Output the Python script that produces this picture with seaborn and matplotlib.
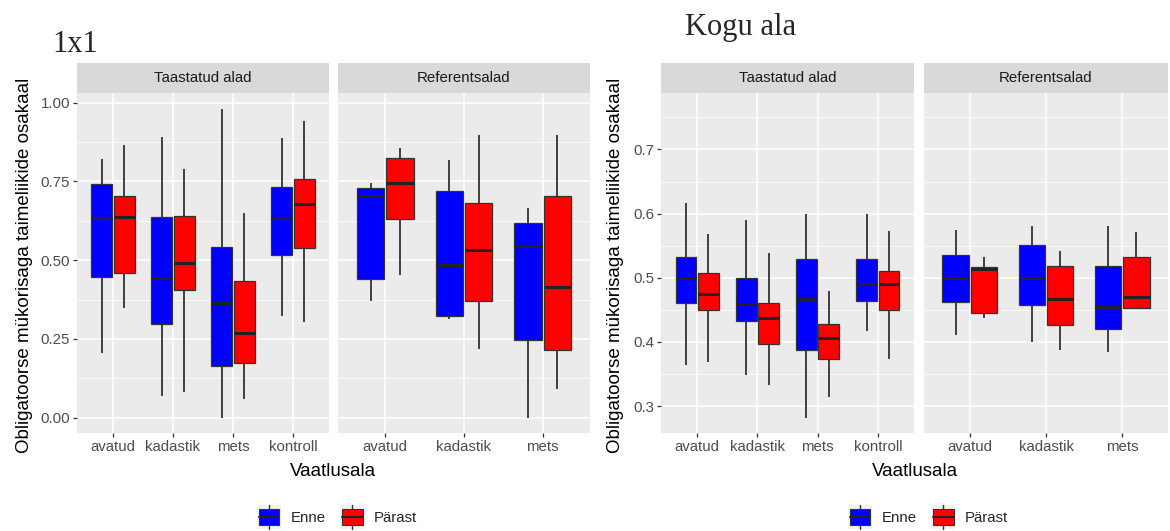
import matplotlib
matplotlib.use("Agg")
import matplotlib.pyplot as plt
from matplotlib.patches import Patch, Rectangle
from matplotlib.lines import Line2D
from matplotlib.legend_handler import HandlerBase
from matplotlib.ticker import FixedLocator
import seaborn as sns
import pandas as pd

# vaatlusalad
alad_taastatud = ["avatud", "kadastik", "mets", "kontroll"]
alad_ref = ["avatud", "kadastik", "mets"]
aeg = ["Enne", "Pärast"]

# iga rida: min, q1, mediaan, q3, max (loetud jooniselt)
# 1x1
x1_taast_enne = [[0.206, 0.447, 0.633, 0.741, 0.822],
                 [0.069, 0.296, 0.442, 0.638, 0.892],
                 [0.000, 0.164, 0.364, 0.543, 0.981],
                 [0.323, 0.516, 0.633, 0.732, 0.889]]
x1_taast_parast = [[0.349, 0.458, 0.638, 0.704, 0.866],
                   [0.081, 0.404, 0.492, 0.640, 0.790],
                   [0.060, 0.172, 0.270, 0.434, 0.651],
                   [0.302, 0.540, 0.677, 0.759, 0.942]]
x1_ref_enne = [[0.370, 0.441, 0.704, 0.728, 0.746],
               [0.314, 0.323, 0.484, 0.720, 0.817],
               [0.000, 0.247, 0.545, 0.617, 0.667]]
x1_ref_parast = [[0.452, 0.630, 0.744, 0.823, 0.857],
                 [0.217, 0.370, 0.532, 0.683, 0.896],
                 [0.090, 0.215, 0.415, 0.704, 0.896]]
# Kogu ala
kogu_taast_enne = [[0.364, 0.460, 0.500, 0.532, 0.616],
                   [0.349, 0.433, 0.459, 0.500, 0.590],
                   [0.282, 0.387, 0.467, 0.530, 0.600],
                   [0.417, 0.463, 0.491, 0.529, 0.600]]
kogu_taast_parast = [[0.368, 0.450, 0.475, 0.508, 0.568],
                     [0.333, 0.396, 0.438, 0.461, 0.538],
                     [0.314, 0.373, 0.406, 0.428, 0.480],
                     [0.373, 0.450, 0.491, 0.511, 0.573]]
kogu_ref_enne = [[0.411, 0.462, 0.500, 0.535, 0.575],
                 [0.400, 0.458, 0.500, 0.551, 0.581],
                 [0.385, 0.420, 0.454, 0.519, 0.581]]
kogu_ref_parast = [[0.438, 0.445, 0.513, 0.517, 0.533],
                   [0.388, 0.427, 0.467, 0.519, 0.541],
                   [0.453, 0.453, 0.470, 0.532, 0.571]]

varvid = {"Enne": "#0000FF", "Pärast": "#FF0000"}

sns.set_theme(style="white")
plt.rcParams["font.family"] = ["Liberation Sans", "DejaVu Sans"]

W, H = 1170, 531
fig = plt.figure(figsize=(W / 100, H / 100), dpi=100)


def px_axes(x0, x1, y0, y1):
    # pikslid -> joonise koordinaadid
    return fig.add_axes([x0 / W, 1 - y1 / H, (x1 - x0) / W, (y1 - y0) / H])


def make_df(cats, enne, parast):
    rows = []
    for grupp, stats in zip(aeg, [enne, parast]):
        for cat, s in zip(cats, stats):
            for v in s:
                rows.append({"Vaatlusala": cat, "Aeg": grupp, "osakaal": v})
    return pd.DataFrame(rows)


def facet(x0, x1, cats, enne, parast, ylim, yticks, ylabels, yminor, title, show_y):
    ax = px_axes(x0, x1, 93, 433)
    df = make_df(cats, enne, parast)
    sns.boxplot(data=df, x="Vaatlusala", y="osakaal", hue="Aeg", order=cats,
                hue_order=aeg, palette=varvid, saturation=1, whis=(0, 100),
                width=0.74, gap=0.06, linecolor="#333333", linewidth=0.9,
                showcaps=False, showfliers=False, legend=False, ax=ax,
                medianprops={"linewidth": 2.2, "color": "#222222"},
                whiskerprops={"linewidth": 1.3})
    ax.set_facecolor("#EBEBEB")
    for s in ax.spines.values():
        s.set_visible(False)
    ax.set_xlim(-0.6, len(cats) - 0.4)
    ax.set_ylim(*ylim)
    ax.set_yticks(yticks)
    ax.set_yticklabels(ylabels if show_y else [])
    ax.yaxis.set_minor_locator(FixedLocator(yminor))
    ax.set_axisbelow(True)
    ax.grid(True, which="major", color="white", linewidth=1.1)
    ax.grid(True, which="minor", axis="y", color="white", linewidth=0.55)
    ax.tick_params(axis="x", bottom=True, length=3, width=0.9, color="#333333",
                   labelsize=10.8, labelcolor="#4D4D4D", pad=2)
    ax.tick_params(axis="y", which="major", left=show_y, length=3, width=0.9,
                   color="#333333", labelsize=10.8, labelcolor="#4D4D4D", pad=2)
    ax.tick_params(axis="y", which="minor", left=False, length=0)
    ax.set_xlabel("")
    ax.set_ylabel("")
    # facet riba
    st = px_axes(x0, x1, 63, 93)
    st.set_facecolor("#D9D9D9")
    st.set_xticks([])
    st.set_yticks([])
    for s in st.spines.values():
        s.set_visible(False)
    st.text(0.5, 0.5, title, ha="center", va="center", fontsize=10.8,
            color="#1A1A1A", transform=st.transAxes)
    return ax


class BoxKey(HandlerBase):
    # ggploti moodi legendivõti: hall taust, vurrud, kast ja mediaan
    def create_artists(self, legend, orig_handle, xdescent, ydescent, width, height,
                       fontsize, trans):
        side = max(width, height)
        x0 = -xdescent + (width - side) / 2
        y0 = -ydescent + (height - side) / 2
        bg = Rectangle((x0, y0), side, side, facecolor="#F2F2F2", edgecolor="none",
                       transform=trans)
        cx = x0 + side / 2
        wh = Line2D([cx, cx], [y0, y0 + side], color="#333333", lw=1.0,
                    transform=trans)
        box = Rectangle((x0 + side * 0.08, y0 + side * 0.18), side * 0.84, side * 0.64,
                        facecolor=orig_handle.get_facecolor(), edgecolor="#333333",
                        lw=0.8, transform=trans)
        med = Line2D([x0 + side * 0.08, x0 + side * 0.92], [y0 + side / 2] * 2,
                     color="#222222", lw=1.4, transform=trans)
        return [bg, wh, box, med]


ylab = "Obligatoorse mükorisaga taimeliikide osakaal"

# vasak: 1x1
t1 = [0, 0.25, 0.5, 0.75, 1.0]
l1 = ["0.00", "0.25", "0.50", "0.75", "1.00"]
m1 = [0.125, 0.375, 0.625, 0.875]
facet(77, 329, alad_taastatud, x1_taast_enne, x1_taast_parast, (-0.049, 1.031),
      t1, l1, m1, "Taastatud alad", True)
facet(338, 590, alad_ref, x1_ref_enne, x1_ref_parast, (-0.049, 1.031),
      t1, l1, m1, "Referentsalad", False)

# parem: Kogu ala
t2 = [0.3, 0.4, 0.5, 0.6, 0.7]
l2 = ["0.3", "0.4", "0.5", "0.6", "0.7"]
m2 = [0.25, 0.35, 0.45, 0.55, 0.65, 0.75]
facet(661, 914, alad_taastatud, kogu_taast_enne, kogu_taast_parast, (0.258, 0.788),
      t2, l2, m2, "Taastatud alad", True)
facet(924, 1168, alad_ref, kogu_ref_enne, kogu_ref_parast, (0.258, 0.788),
      t2, l2, m2, "Referentsalad", False)

# telgede pealkirjad
for xl, xc in [(25, 333), (615, 915)]:
    fig.text(xl / W, 1 - 265 / H, ylab, rotation=90, ha="center", va="center",
             fontsize=13.5, color="black")
    fig.text(xc / W, 1 - 471 / H, "Vaatlusala", ha="center", va="center",
             fontsize=13.5, color="black")

# pealkirjad
fig.text(52 / W, 1 - 52 / H, "1x1", ha="left", va="baseline", fontsize=22,
         family="Liberation Serif")
fig.text(685 / W, 1 - 35 / H, "Kogu ala", ha="left", va="baseline", fontsize=22,
         family="Liberation Serif")

# legendid
handles = [Patch(facecolor=varvid[a]) for a in aeg]
for xc in [337, 928]:
    fig.legend(handles, aeg, loc="center", bbox_to_anchor=(xc / W, 1 - 517 / H),
               ncol=2, frameon=False, fontsize=10.8, handlelength=1.6,
               handleheight=1.6, handletextpad=0.6, columnspacing=1.0,
               handler_map={Patch: BoxKey()})

fig.savefig("out.png", dpi=100, facecolor="white")
